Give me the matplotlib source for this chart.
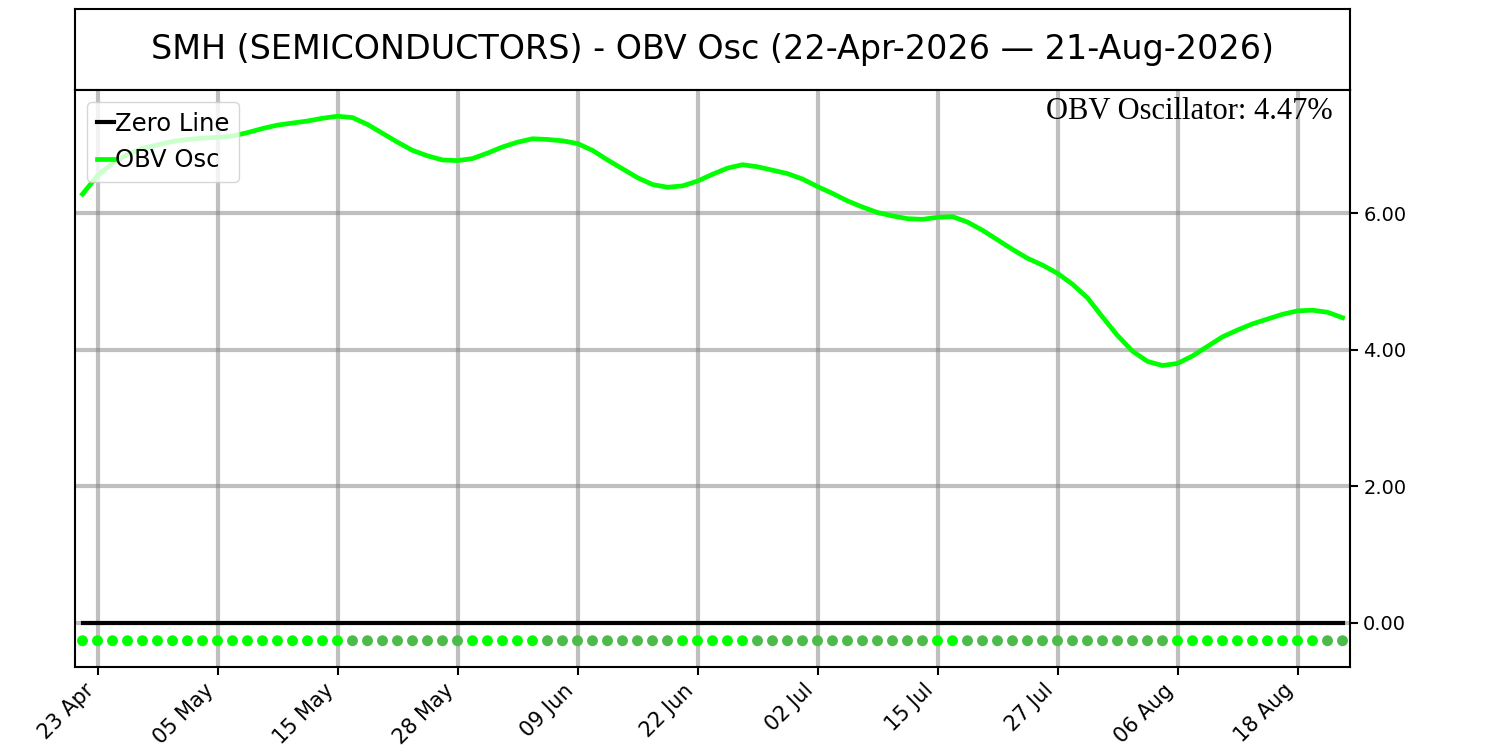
import matplotlib
matplotlib.use("Agg")
import matplotlib.pyplot as plt
import numpy as np
import pandas as pd

# ---- data ----
title = "SMH (SEMICONDUCTORS) - OBV Osc (22-Apr-2026 \u2014 21-Aug-2026)"
start_date = "2026-04-22"
end_date = "2026-08-21"
holidays = ["2026-05-25", "2026-06-19", "2026-07-03"]

obv_osc = [
    6.28, 6.55, 6.73, 6.86, 6.95, 7.00, 7.05, 7.08, 7.10, 7.11,
    7.13, 7.18, 7.24, 7.29, 7.32, 7.35, 7.39, 7.42, 7.40, 7.30,
    7.17, 7.04, 6.92, 6.84, 6.78, 6.77, 6.80, 6.88, 6.97, 7.04,
    7.09, 7.08, 7.06, 7.02, 6.92, 6.78, 6.65, 6.52, 6.42, 6.38,
    6.40, 6.47, 6.57, 6.66, 6.71, 6.68, 6.63, 6.58, 6.50, 6.39,
    6.29, 6.18, 6.09, 6.01, 5.96, 5.92, 5.91, 5.94, 5.95, 5.87,
    5.75, 5.61, 5.47, 5.34, 5.24, 5.12, 4.96, 4.76, 4.48, 4.21,
    3.98, 3.83, 3.77, 3.80, 3.91, 4.05, 4.19, 4.29, 4.38, 4.45,
    4.52, 4.57, 4.58, 4.55, 4.47,
]

# 1 = rising (bright marker), 0 = falling (dull marker)
marker_up = (
    [1] * 18 + [0] * 8 + [1] * 5 + [0] * 9 + [1] * 5 + [0] * 12 +
    [1] * 2 + [0] * 14 + [1] * 10 + [0] * 2
)
marker_level = -0.26
zero_level = 0.0
y_ticks = [0.0, 2.0, 4.0, 6.0]
tick_every = 8
tick_first = 1

# ---- build ----
dates = pd.bdate_range(start_date, end_date, freq="C", holidays=holidays)
n = len(obv_osc)
x = np.arange(n)

fig = plt.figure(figsize=(15, 7.5), dpi=100)
ax_t = fig.add_axes([0.05, 0.88, 0.85, 0.108])
ax = fig.add_axes([0.05, 0.1107, 0.85, 0.7693])

# title box
ax_t.set_xticks([])
ax_t.set_yticks([])
for s in ax_t.spines.values():
    s.set_linewidth(1.5)
ax_t.text(0.5, 0.5, title, ha="center", va="center", fontsize=24,
          transform=ax_t.transAxes)

# main
ax.grid(True, color="gray", alpha=0.5, linewidth=3)
ax.plot(x, [zero_level] * n, color="black", linewidth=3, label="Zero Line", zorder=2)
ax.plot(x, obv_osc, color="#00ff00", linewidth=3.4, label="OBV Osc", zorder=2)
colors = ["#00ff00" if u else "#4cbb4a" for u in marker_up[:n]]
ax.scatter(x, [marker_level] * n, c=colors, s=62, zorder=3, linewidths=0)

ax.set_xlim(-0.5, n - 0.5)
ax.margins(y=0.05)
ax.yaxis.tick_right()
ax.set_yticks(y_ticks)
ax.set_yticklabels([f"{v:.2f}" for v in y_ticks], fontsize=14)

tick_idx = list(range(tick_first, n, tick_every))
ax.set_xticks(tick_idx)
ax.set_xticklabels([dates[i].strftime("%d %b") for i in tick_idx],
                   rotation=45, ha="right", fontsize=15)
for s in ax.spines.values():
    s.set_linewidth(1.5)
ax.tick_params(width=1.5, length=6)

ax.legend(loc="upper left", fontsize=17.5, handlelength=0.7, handletextpad=0.05,
          borderpad=0.4, labelspacing=0.5)

ax.text(0.986, 0.988, f"OBV Oscillator: {obv_osc[-1]:.2f}%", transform=ax.transAxes,
        ha="right", va="top", fontsize=22, family="Liberation Serif")

fig.savefig("out.png", dpi=100)
